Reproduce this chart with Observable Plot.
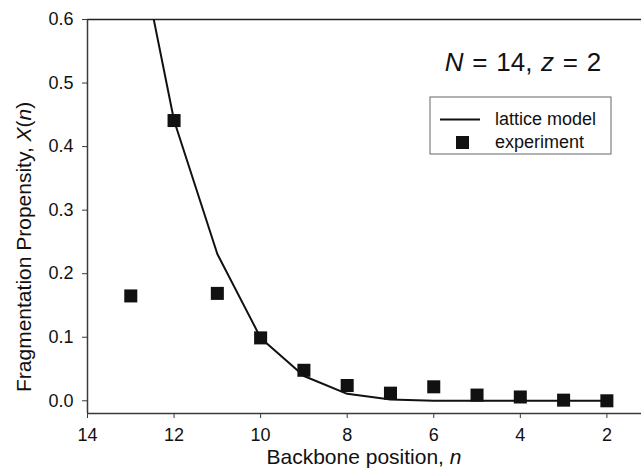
<!DOCTYPE html>
<html>
<head>
<meta charset="utf-8">
<script src="https://cdn.jsdelivr.net/npm/d3@7"></script>
<script src="https://cdn.jsdelivr.net/npm/@observablehq/plot@0.6"></script>
<style>
  html, body { margin: 0; padding: 0; background: white; }
  #chart svg { display: block; }
</style>
</head>
<body>
<div id="chart"></div>
<script>
// Backbone positions
const positions = [13, 12, 11, 10, 9, 8, 7, 6, 5, 4, 3, 2];
// Experimental fragmentation propensity
const experiment = [0.165, 0.441, 0.169, 0.099, 0.048, 0.024, 0.012, 0.022, 0.009, 0.006, 0.001, 0.0];
// Lattice model curve
const lattice = [0.78, 0.441, 0.231, 0.099, 0.039, 0.011, 0.002, 0.0, 0.0, 0.0, 0.0, 0.0];
// Tick values
const xTicks = [14, 12, 10, 8, 6, 4, 2];
const yTicks = [0.0, 0.1, 0.2, 0.3, 0.4, 0.5, 0.6];

const expData = positions.map((n, i) => ({n, v: experiment[i]}));
const modelData = positions.map((n, i) => ({n, v: lattice[i]}));

const font = "'Liberation Sans', Arial, sans-serif";
const ink = "#111";
const axisInk = "#3a3a3a";

const chart = Plot.plot({
  width: 641,
  height: 469,
  marginLeft: 87,
  marginRight: 0,
  marginTop: 19,
  marginBottom: 56,
  style: {fontFamily: font, fontSize: "18px", color: ink, background: "white", overflow: "visible"},
  x: {domain: [14, 1.2]},
  y: {domain: [-0.02, 0.6]},
  marks: [
    Plot.ruleY([0.6], {stroke: "#222", strokeWidth: 1.5}),
    Plot.ruleX([14], {stroke: axisInk, strokeWidth: 1.5}),
    Plot.ruleY([-0.02], {stroke: axisInk, strokeWidth: 1.5}),
    Plot.axisX({ticks: xTicks, tickSize: 5, tickPadding: 10, label: null, stroke: axisInk, fontSize: 18, fill: ink}),
    Plot.axisY({ticks: yTicks, tickSize: 5, tickPadding: 9, tickFormat: d3.format(".1f"), label: null, stroke: axisInk, fontSize: 18, fill: ink}),
    Plot.line(modelData, {x: "n", y: "v", stroke: ink, strokeWidth: 2, clip: true}),
    Plot.dot(expData, {x: "n", y: "v", symbol: "square", r: 7.35, fill: ink, stroke: "none"})
  ]
});

document.getElementById("chart").appendChild(chart);

const svg = d3.select(chart);

// X axis title
const xl = svg.append("text")
  .attr("x", 364).attr("y", 464)
  .attr("text-anchor", "middle")
  .attr("font-family", font).attr("font-size", 21).attr("fill", ink);
xl.append("tspan").text("Backbone position, ");
xl.append("tspan").attr("font-style", "italic").text("n");

// Y axis title (starts near the bottom, reads upward)
const yl = svg.append("text")
  .attr("transform", "translate(23,392) rotate(-90)")
  .attr("text-anchor", "start")
  .attr("dominant-baseline", "central")
  .attr("font-family", font).attr("font-size", 21).attr("fill", ink);
yl.append("tspan").text("Fragmentation Propensity, ");
yl.append("tspan").attr("font-style", "italic").text("X");
yl.append("tspan").text("(");
yl.append("tspan").attr("font-style", "italic").text("n");
yl.append("tspan").text(")");

// Panel title
const tt = svg.append("text")
  .attr("x", 523).attr("y", 71)
  .attr("text-anchor", "middle")
  .attr("word-spacing", "1.5px")
  .attr("font-family", font).attr("font-size", 26).attr("fill", ink);
tt.append("tspan").attr("font-style", "italic").text("N");
tt.append("tspan").text(" = 14, ");
tt.append("tspan").attr("font-style", "italic").text("z");
tt.append("tspan").text(" = 2");

// Legend
const lg = svg.append("g").attr("text-anchor", "start");
lg.append("rect").attr("x", 430).attr("y", 97).attr("width", 181).attr("height", 57)
  .attr("fill", "white").attr("stroke", "#666").attr("stroke-width", 1);
lg.append("line").attr("x1", 440).attr("x2", 480).attr("y1", 119.5).attr("y2", 119.5)
  .attr("stroke", ink).attr("stroke-width", 2);
lg.append("rect").attr("x", 456).attr("y", 136).attr("width", 13).attr("height", 13).attr("fill", ink);
lg.append("text").attr("x", 495).attr("y", 125).attr("text-anchor", "start").attr("font-family", font).attr("font-size", 18).attr("fill", ink).text("lattice model");
lg.append("text").attr("x", 495).attr("y", 148).attr("text-anchor", "start").attr("font-family", font).attr("font-size", 18).attr("fill", ink).text("experiment");
</script>
</body>
</html>
